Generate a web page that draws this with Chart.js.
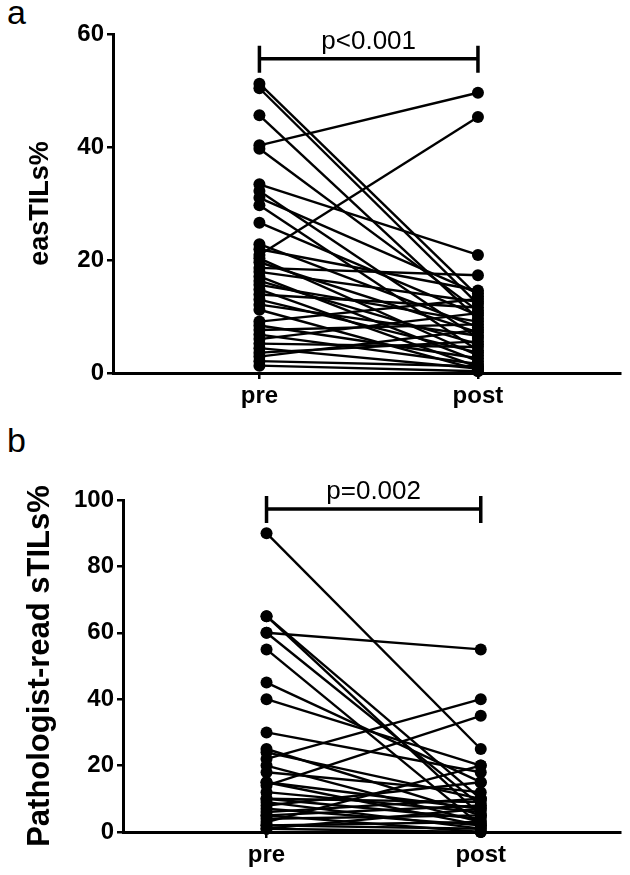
<!DOCTYPE html>
<html>
<head>
<meta charset="utf-8">
<script src="https://cdn.jsdelivr.net/npm/chart.js@4.4.1/dist/chart.umd.min.js"></script>
<style>
  body { margin: 0; background: #fff; }
  #wrap { position: relative; width: 630px; height: 875px; overflow: hidden; }
  canvas { position: absolute; left: 0; }
  .tag { position: absolute; left: 7px; font: 34px "Liberation Sans", Arial, sans-serif; line-height: 1; color: #000; }
</style>
</head>
<body>
<div id="wrap">
  <div class="tag" style="top:-5px">a</div>
  <canvas id="chartA" width="630" height="420" style="top:0"></canvas>
  <div class="tag" style="top:423px">b</div>
  <canvas id="chartB" width="630" height="450" style="top:425px"></canvas>
</div>
<script>
// paired values, pre vs post
const xLabels = ['pre', 'post'];

const easPre = [51.2, 50.4, 45.6, 40.3, 39.7, 33.4, 32.2, 31.0, 29.7, 26.6, 22.8, 21.9, 20.9, 20.3,
  19.6, 18.6, 17.9, 17.1, 16.3, 15.6, 14.8, 13.9, 13.0, 12.1, 11.2, 9.1, 8.4, 7.6, 6.8, 6.0,
  5.2, 4.4, 3.6, 2.9, 2.1, 1.3];
const easPost = [13.6, 12.2, 9.6, 49.6, 11.0, 20.9, 6.2, 14.1, 4.0, 10.2, 8.1, 14.6, 45.3, 3.1,
  7.2, 17.3, 12.6, 2.1, 5.1, 9.1, 1.1, 11.6, 3.6, 6.6, 0.6, 13.1, 2.6, 8.6, 1.6, 10.6,
  4.6, 0.8, 5.6, 7.6, 1.2, 0.3];
const easTicks = [0, 20, 40, 60];

const pathPre = [90, 65, 65, 60, 60, 55, 45, 40, 30, 25, 24, 22, 20, 18, 15, 15, 14, 12, 10, 10,
  9, 8, 7, 6, 5, 5, 4, 3, 2, 2, 1, 1];
const pathPost = [25, 10, 5, 55, 8, 2, 15, 20, 18, 5, 10, 40, 3, 12, 7, 2, 35, 6, 4, 9,
  1, 15, 2, 10, 0, 8, 5, 20, 3, 1, 7, 0];
const pathTicks = [0, 20, 40, 60, 80, 100];

// significance brackets (level in axis units)
const bracketA = { level: 55.6, text: 'p<0.001' };
const bracketB = { level: 97.3, text: 'p=0.002' };

const FONT = '"Liberation Sans", Arial, sans-serif';

const bracketPlugin = {
  id: 'bracket',
  afterDatasetsDraw(chart, args, o) {
    const { ctx } = chart;
    const x = chart.scales.x, y = chart.scales.y;
    const x1 = x.getPixelForValue(1);
    const x2 = x.getPixelForValue(2);
    const yy = y.getPixelForValue(o.level);
    ctx.save();
    ctx.strokeStyle = '#000';
    ctx.lineWidth = 3.5;
    ctx.beginPath();
    ctx.moveTo(x1, yy); ctx.lineTo(x2, yy);
    ctx.moveTo(x1, yy - 13); ctx.lineTo(x1, yy + 14);
    ctx.moveTo(x2, yy - 13); ctx.lineTo(x2, yy + 14);
    ctx.stroke();
    ctx.fillStyle = '#000';
    ctx.font = '26px ' + FONT;
    ctx.textAlign = 'center';
    ctx.fillText(o.text, (x1 + x2) / 2, yy - 10);
    ctx.restore();
  }
};

function pairChart(id, pre, post, opts) {
  const datasets = pre.map((v, i) => ({
    data: [{ x: 1, y: v }, { x: 2, y: post[i] }],
    borderColor: '#000',
    backgroundColor: '#000',
    pointBackgroundColor: '#000',
    borderWidth: 2.4,
    pointRadius: 6,
    pointBorderWidth: 0,
    clip: false
  }));

  const tickFont = { family: FONT, size: 24, weight: 'bold' };

  return new Chart(document.getElementById(id), {
    type: 'line',
    data: { datasets },
    options: {
      responsive: false,
      animation: false,
      devicePixelRatio: 1,
      layout: { padding: { left: 20, top: opts.top, right: 10, bottom: 0 } },
      plugins: {
        legend: { display: false },
        tooltip: { enabled: false },
        bracket: opts.bracket
      },
      scales: {
        x: {
          type: 'linear',
          min: 0.33,
          max: 2.65,
          afterBuildTicks: s => { s.ticks = [{ value: 1 }, { value: 2 }]; },
          afterFit: s => { s.height = opts.xHeight; },
          grid: { drawOnChartArea: false, color: '#000', lineWidth: 2.5, tickLength: 6 },
          border: { color: '#000', width: 3 },
          ticks: { color: '#000', font: tickFont, padding: 3, callback: v => xLabels[v - 1] }
        },
        y: {
          min: 0,
          max: opts.max,
          afterBuildTicks: s => { s.ticks = opts.ticks.map(v => ({ value: v })); },
          afterFit: s => { s.width = opts.yWidth; },
          grid: { drawOnChartArea: false, color: '#000', lineWidth: 2.5, tickLength: 6 },
          border: { color: '#000', width: 3 },
          ticks: { color: '#000', font: tickFont, padding: 3 },
          title: {
            display: true,
            text: opts.title,
            color: '#000',
            font: { family: FONT, size: opts.titleSize, weight: 'bold' },
            padding: { top: opts.titlePad, bottom: 0 }
          }
        }
      }
    },
    plugins: [bracketPlugin]
  });
}

pairChart('chartA', easPre, easPost, {
  max: 60, ticks: easTicks, title: 'easTILs%', titleSize: 27, titlePad: 4,
  top: 34, yWidth: 93, xHeight: 47, bracket: bracketA
});

pairChart('chartB', pathPre, pathPost, {
  max: 100, ticks: pathTicks, title: 'Pathologist-read sTILs%', titleSize: 31, titlePad: 2,
  top: 75, yWidth: 103, xHeight: 43, bracket: bracketB
});
</script>
</body>
</html>
